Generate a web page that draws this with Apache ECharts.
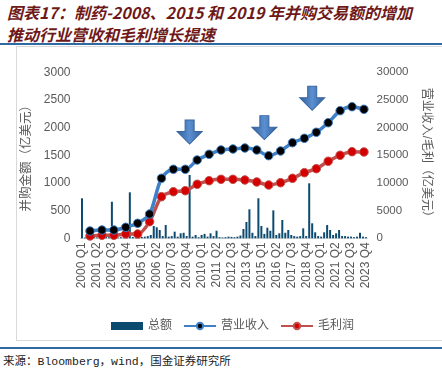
<!DOCTYPE html>
<html><head><meta charset="utf-8">
<script src="https://cdn.jsdelivr.net/npm/echarts@6/dist/echarts.min.js"></script>
<style>
html,body{margin:0;padding:0;background:#fff;}
#wrap{position:relative;width:442px;height:370px;overflow:hidden;background:#fff;}
#title{position:absolute;left:7px;top:1px;font-family:"Noto Sans CJK SC",sans-serif;font-size:16px;line-height:22px;font-style:italic;font-weight:bold;color:#6e1818;white-space:nowrap;}
#rule1{position:absolute;left:0;top:43px;width:442px;height:2px;background:#2f6aa3;}
#box{position:absolute;left:16px;top:46px;width:430px;height:295px;border:1px solid #d9d9d9;box-sizing:border-box;}
#rule2{position:absolute;left:0;top:347px;width:442px;height:2px;background:#2f6aa3;}
#src{position:absolute;left:3px;top:352px;font-family:"Liberation Mono","Noto Sans CJK SC",monospace;font-size:11.5px;color:#222;white-space:nowrap;}
#chart{position:absolute;left:0;top:0;width:442px;height:370px;}
</style></head>
<body><div id="wrap">
<div id="title">图表17：制药-2008、2015 和 2019 年并购交易额的增加<br>推动行业营收和毛利增长提速</div>
<div id="rule1"></div>
<div id="box"></div>
<div id="rule2"></div>
<div id="src">来源：Bloomberg，wind，国金证券研究所</div>
<div id="chart"></div>
</div>
<script>
// Quarter categories 2000 Q1 .. 2023 Q4
const startYear = 2000, endYear = 2023;
const quarters = [];
for (let y = startYear; y <= endYear; y++) for (let q = 1; q <= 4; q++) quarters.push(y + ' Q' + q);
const years = [];
for (let y = startYear; y <= endYear; y++) years.push(y);

// M&A deal value (亿美元), quarterly
const dealTotal = [723,15,20,15,25,15,20,15,25,20,
  661,20,15,20,25,30,831,25,20,15,
  25,30,40,60,222,199,150,40,240,30,
  40,120,30,90,100,40,1144,30,60,20,
  60,80,30,90,40,137,20,15,20,30,
  25,20,30,50,168,295,524,100,40,723,
  222,80,192,137,505,60,90,331,100,150,
  60,40,30,40,180,40,994,271,108,40,
  30,108,240,150,60,90,150,40,40,30,
  30,20,30,100,30,20];
// Revenue (亿美元), annual
const revenue = [1320,1500,1500,1990,2710,4390,10840,12470,12470,14150,15180,15960,16140,16320,15960,14930,15780,17280,18070,19160,20890,23060,23780,23310];
// Gross profit (亿美元), annual
const grossProfit = [420,540,540,780,780,3000,7520,8420,8600,9760,10410,10660,10660,10540,10180,9630,10050,10840,11860,12580,13920,15000,15650,15600];
// Arrow annotations (quarter, left-axis value)
const arrowMarks = [['2009 Q1',1920],['2015 Q2',2000],['2019 Q2',2530]];

const FONT = '"Liberation Sans","Noto Sans CJK SC",sans-serif';
const GRAY = '#595959';
const chart = echarts.init(document.getElementById('chart'), null, {renderer:'canvas'});
const arrowPath = 'path://M32,0 L68,0 L68,48 L100,48 L50,100 L0,48 L32,48 Z';
chart.setOption({
  animation:false,
  textStyle:{fontFamily:FONT},
  grid:{left:80.5, top:72.3, width:287, height:166, containLabel:false},
  legend:{
    left:106, top:315, itemGap:11, itemWidth:32, itemHeight:8,
    textStyle:{color:GRAY, fontSize:12, fontFamily:FONT},
    data:[{name:'总额', icon:'rect'}, {name:'营业收入'}, {name:'毛利润'}]
  },
  xAxis:[{
    type:'category', data:quarters, boundaryGap:true,
    axisLine:{lineStyle:{color:'#d9d9d9'}}, axisTick:{show:false},
    axisLabel:{interval:4, rotate:90, color:GRAY, fontSize:12, margin:4}
  },{
    type:'value', min:1999.2, max:2023.3, show:false
  }],
  yAxis:[{
    type:'value', min:0, max:3000, interval:500, position:'left',
    name:'并购金额（亿美元）', nameLocation:'middle', nameGap:43, nameRotate:90,
    nameTextStyle:{color:GRAY, fontSize:12.5, fontFamily:FONT},
    axisLine:{show:false}, axisTick:{show:false}, splitLine:{show:false},
    axisLabel:{color:GRAY, fontSize:12, margin:10, formatter:v=>String(v)}
  },{
    type:'value', min:0, max:30000, interval:5000, position:'right',
    name:'营业收入/毛利（亿美元）', nameLocation:'middle', nameGap:53, nameRotate:-90,
    nameTextStyle:{color:GRAY, fontSize:12, fontFamily:FONT},
    axisLine:{show:false}, axisTick:{show:false}, splitLine:{show:false},
    axisLabel:{color:GRAY, fontSize:11.5, margin:9, formatter:v=>String(v)}
  }],
  series:[{
    name:'总额', type:'bar', xAxisIndex:0, yAxisIndex:0, data:dealTotal,
    barWidth:2, itemStyle:{color:'#0d4a70'}, z:2,
    markPoint:{
      symbol:arrowPath, symbolSize:[25,24], silent:true,
      label:{show:false},
      itemStyle:{color:{type:'linear',x:0,y:0,x2:1,y2:0,colorStops:[
        {offset:0,color:'#2f5f9a'},{offset:0.5,color:'#5b8fd0'},{offset:1,color:'#2f5f9a'}]},
        borderColor:'#3a64a0', borderWidth:1},
      data:arrowMarks.map(a=>({coord:a}))
    }
  },{
    name:'营业收入', type:'line', xAxisIndex:1, yAxisIndex:1,
    data:years.map((y,i)=>[y,revenue[i]]), smooth:0.3,
    lineStyle:{color:'#3f80c6', width:3.5},
    symbol:'circle', symbolSize:8.5,
    itemStyle:{color:'#000000', borderColor:'#3f80c6', borderWidth:1},
    z:4
  },{
    name:'毛利润', type:'line', xAxisIndex:1, yAxisIndex:1,
    data:years.map((y,i)=>[y,grossProfit[i]]), smooth:0.3,
    lineStyle:{color:'#c0504d', width:3.5},
    symbol:'circle', symbolSize:8.5,
    itemStyle:{color:'#d40000', borderColor:'#c0504d', borderWidth:1},
    z:3
  }]
});
</script>
</body></html>
